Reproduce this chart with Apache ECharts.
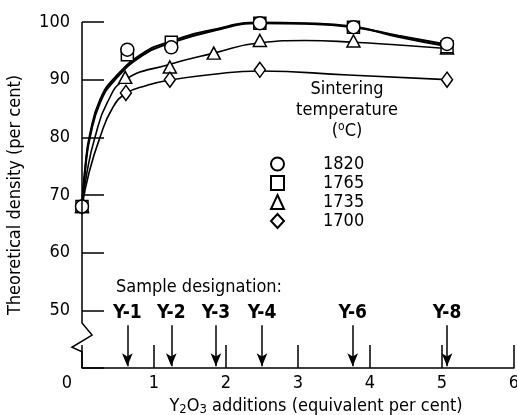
<!DOCTYPE html>
<html lang="en">
<head>
<meta charset="UTF-8">
<title>Theoretical density vs Y2O3 additions</title>
<style>
    *{margin:0;padding:0;}
    #main{width:517px;height:415px;background:#fff;}
</style>
</head>
<body>
<div id="main"></div>
<script src="https://cdn.jsdelivr.net/npm/echarts@6/dist/echarts.min.js"></script>
<script>
var FONT = "'Liberation Sans Narrow', 'DejaVu Sans Condensed', sans-serif";

// sintering temperatures (legend) and their marker shapes
var temps = ['1820', '1765', '1735', '1700'];
var shapes = ['circle', 'rect', 'triangle', 'diamond'];
var shapeSize = [13, 12, [13, 12], [11, 15]];
var markerZ = [5, 4, 3, 3];   // circles sit on top of squares

// measured points [Y2O3 %, density %]
var pts1820 = [[0, 68], [0.63, 95.2], [1.24, 95.6], [2.47, 99.8], [3.77, 99.1], [5.07, 96.2]];
var pts1765 = [[0, 68], [0.63, 94.3], [1.24, 96.5], [2.47, 99.8], [3.77, 99.1], [5.07, 95.7]];
var pts1735 = [[0, 68], [0.6, 90.4], [1.22, 92.2], [1.83, 94.6], [2.47, 96.8], [3.77, 96.7], [5.07, 95.5]];
var pts1700 = [[0, 68], [0.61, 87.7], [1.22, 90.0], [2.47, 91.7], [5.07, 90.0]];

// faired curves as drawn in the figure
var curve1820 = [[0, 68], [0.05, 75], [0.11, 80], [0.25, 86], [0.46, 90], [0.85, 94.3], [1.22, 96.3], [1.8, 98.4], [2.47, 99.8], [3.1, 99.7], [3.77, 99.1], [4.4, 97.6], [5.07, 96.1]];
var curve1765 = [[0, 68], [0.05, 75.5], [0.11, 80.5], [0.25, 86.5], [0.46, 90.4], [0.85, 94.6], [1.22, 96.6], [1.8, 98.6], [2.47, 99.9], [3.1, 99.8], [3.77, 99.2], [4.4, 97.4], [5.07, 95.8]];
var curve1735 = [[0, 68], [0.07, 74], [0.18, 80], [0.35, 86], [0.6, 90], [1.2, 92.6], [1.83, 94.6], [2.47, 96.4], [3.1, 96.8], [3.77, 96.5], [4.4, 96], [5.07, 95.4]];
var curve1700 = [[0, 68], [0.1, 74], [0.25, 80], [0.42, 85], [0.61, 87.6], [0.9, 89], [1.2, 89.9], [1.8, 90.9], [2.47, 91.5], [3.7, 90.8], [5.07, 90]];

// sample designations and their Y2O3 content
var sampleNames = ['Y-1', 'Y-2', 'Y-3', 'Y-4', 'Y-6', 'Y-8'];
var sampleX = [0.63, 1.24, 1.86, 2.5, 3.76, 5.07];

// y axis with the break between 50 and 0 (axis is drawn from 40 = "0")
var yAxisPath = [[0, 100], [0, 47.8], [0.14, 45.7], [-0.14, 43.6], [0, 42.8], [0, 40]];

var points = [pts1820, pts1765, pts1735, pts1700];
var curves = [curve1820, curve1765, curve1735, curve1700];
var curveWidth = [2, 2, 1.6, 1.6];

var myChart = echarts.init(document.getElementById('main'));

var series = [];
curves.forEach(function (c, i) {
    series.push({
        type: 'line',
        data: c,
        smooth: true,
        symbol: 'none',
        silent: true,
        z: 2,
        lineStyle: {color: '#000', width: curveWidth[i]}
    });
});
points.forEach(function (p, i) {
    series.push({
        name: temps[i],
        type: 'scatter',
        data: p,
        symbol: shapes[i],
        symbolSize: shapeSize[i],
        z: markerZ[i],
        itemStyle: {color: '#fff', borderColor: '#000', borderWidth: 1.5, opacity: 1}
    });
});
// sample designation arrows
series.push({
    type: 'line',
    data: [],
    silent: true,
    markLine: {
        silent: true,
        symbol: ['none', 'arrow'],
        symbolSize: [8, 13],
        lineStyle: {color: '#000', width: 1.5, type: 'solid'},
        label: {
            position: 'start',
            distance: 3,
            fontFamily: FONT,
            fontSize: 19,
            fontWeight: 'bold',
            color: '#000'
        },
        data: sampleNames.map(function (n, i) {
            return [
                {coord: [sampleX[i], 47.4], label: {formatter: n}},
                {coord: [sampleX[i], 40.3]}
            ];
        })
    }
});

var option = {
    animation: false,
    backgroundColor: '#fff',
    textStyle: {fontFamily: FONT, color: '#000'},
    title: [{
        text: 'Sintering\ntemperature\n({sup|o}C)',
        left: 342,
        top: 74,
        textAlign: 'center',
        textStyle: {
            fontFamily: FONT, fontSize: 18, fontWeight: 'normal', color: '#000', lineHeight: 21,
            rich: {sup: {fontFamily: FONT, fontSize: 12, verticalAlign: 'top', padding: [0, 0, 6, 0]}}
        }
    }, {
        text: 'Sample designation:',
        left: 111,
        top: 273,
        textStyle: {fontFamily: FONT, fontSize: 18, fontWeight: 'normal', color: '#000'}
    }],
    legend: {
        orient: 'vertical',
        left: 265,
        top: 150,
        itemWidth: 13,
        itemHeight: 14,
        itemGap: 1,
        textStyle: {fontFamily: FONT, fontSize: 18, lineHeight: 14, color: '#000', padding: [0, 0, 0, 34]},
        data: temps
    },
    grid: {left: 82, right: 3, top: 22, bottom: 47, outerBoundsMode: 'none'},
    xAxis: {
        type: 'value',
        min: 0,
        max: 6,
        interval: 1,
        name: 'Y{sub|2}O{sub|3} additions (equivalent per cent)',
        nameLocation: 'middle',
        nameGap: 27,
        nameTextStyle: {
            fontFamily: FONT, fontSize: 18, color: '#000', padding: [0, 0, 0, 36],
            rich: {sub: {fontFamily: FONT, fontSize: 13, verticalAlign: 'bottom', padding: [8, 0, 0, 0]}}
        },
        axisLine: {lineStyle: {color: '#000', width: 1.5}},
        axisTick: {inside: true, length: 23, lineStyle: {color: '#000', width: 1.5}},
        axisLabel: {
            fontFamily: FONT, fontSize: 18, color: '#000', margin: 6,
            formatter: function (v) { return v === 0 ? '{o|0}' : String(v); },
            rich: {o: {fontFamily: FONT, fontSize: 18, color: '#000', padding: [0, 30, 0, 0]}}
        },
        splitLine: {show: false}
    },
    yAxis: {
        type: 'value',
        min: 40,
        max: 100,
        interval: 10,
        name: 'Theoretical density (per cent)',
        nameLocation: 'middle',
        nameGap: 58,
        nameTextStyle: {fontFamily: FONT, fontSize: 18, color: '#000'},
        axisLine: {show: false},
        axisTick: {inside: true, length: 22, lineStyle: {color: '#000', width: 1.5}},
        axisLabel: {
            fontFamily: FONT, fontSize: 18, color: '#000', margin: 12,
            formatter: function (v) { return v === 40 ? '' : String(v); }
        },
        splitLine: {show: false}
    },
    series: series
};

myChart.setOption(option);

// broken y axis line, placed through the axis scales
var axisPx = yAxisPath.map(function (p) {
    return myChart.convertToPixel({gridIndex: 0}, p);
});
myChart.setOption({
    graphic: [{
        type: 'polyline',
        silent: true,
        z: 10,
        shape: {points: axisPx},
        style: {stroke: '#000', lineWidth: 1.5, fill: null}
    }]
});
</script>
</body>
</html>
